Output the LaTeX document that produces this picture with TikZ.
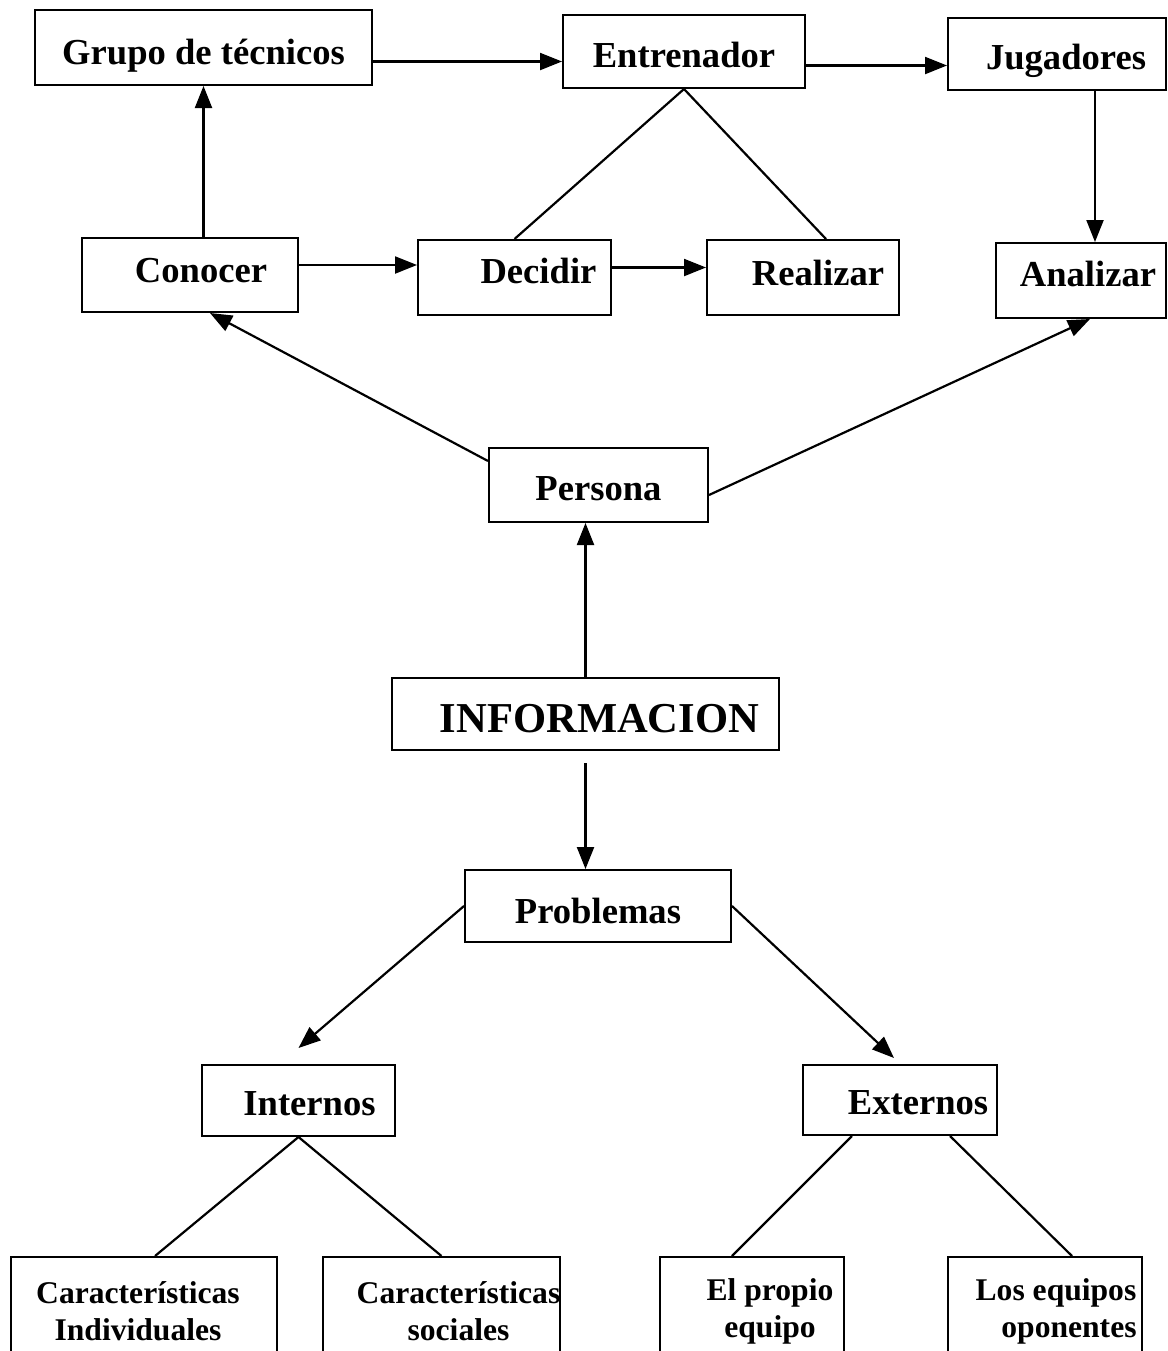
\documentclass[tikz,border=0pt]{standalone}
\usepackage{fontspec}
\setmainfont{Liberation Serif}
\usetikzlibrary{arrows.meta}

\tikzset{
  box/.style={draw, line width=1pt, inner sep=0pt, font=\fontsize{18.3}{22}\selectfont\bfseries},
  bigbox/.style={box, font=\fontsize{21.3}{25}\selectfont\bfseries},
  leafbox/.style={box, align=center, font=\fontsize{15.8}{18.5}\selectfont\bfseries},
  arr/.style={line width=1.1pt, -{Triangle[length=11pt, width=8.5pt]}},
  link/.style={line width=1.1pt}
}
% push the label a bit to the right inside its box
\newcommand{\pushr}[1]{\hspace*{#1pt}}
% label moved right (#1) and up (#2) inside its box
\newcommand{\lbl}[3]{\hspace*{#1pt}\raisebox{#2pt}[\height][\depth]{#3}}

\begin{document}
\begin{tikzpicture}[x=0.5pt, y=-0.5pt]
  \useasboundingbox (0,0) rectangle (1168,1351);
  \clip (0,0) rectangle (1168,1351);

  % Top row
  \node[box, minimum width=168.5pt, minimum height=37.5pt] (grupo) at (203.5,47.5) {\lbl{0}{-4}{Grupo de técnicos}};
  \node[box, minimum width=121pt, minimum height=36.5pt] (entrenador) at (684,51.5) {\lbl{0}{-1.5}{Entrenador}};
  \node[box, minimum width=109pt, minimum height=36pt] (jugadores) at (1057,54) {\lbl{9}{-3.5}{Jugadores}};

  % Second row
  \node[box, minimum width=108pt, minimum height=37pt] (conocer) at (190,275) {\lbl{11}{2}{Conocer}};
  \node[box, minimum width=96.5pt, minimum height=37.5pt] (decidir) at (514.5,277.5) {\lbl{24}{3.5}{Decidir}};
  \node[box, minimum width=96pt, minimum height=37.5pt] (realizar) at (803,277.5) {\lbl{15}{2.5}{Realizar}};
  \node[box, minimum width=85pt, minimum height=37.5pt] (analizar) at (1081,280.5) {\lbl{7}{3.5}{Analizar}};

  % Centre column
  \node[box, minimum width=109.5pt, minimum height=37pt] (persona) at (598.5,485) {\lbl{0}{-2}{Persona}};
  \node[bigbox, minimum width=193.5pt, minimum height=36pt] (informacion) at (585.5,714) {\lbl{14}{-2.5}{INFORMACION}};
  \node[box, minimum width=133pt, minimum height=36pt] (problemas) at (598,906) {\lbl{0}{-2.5}{Problemas}};

  % Problem types
  \node[box, minimum width=96.5pt, minimum height=35.5pt] (internos) at (298.5,1100.5) {\lbl{11}{-1.5}{Internos}};
  \node[box, minimum width=97pt, minimum height=35pt] (externos) at (900,1100) {\lbl{18}{-1.5}{Externos}};

  % Leaves (cut by the page edge)
  \node[leafbox, minimum width=133pt, minimum height=54pt] (individual) at (144,1311) {Características\pushr{6}\\Individuales\pushr{6}};
  \node[leafbox, minimum width=118.5pt, minimum height=54pt] (social) at (441.5,1311) {\pushr{17}Características\\\pushr{17}sociales};
  \node[leafbox, minimum width=92pt, minimum height=54pt] (propio) at (752,1311) {\pushr{18}El propio\\\pushr{18}equipo};
  \node[leafbox, minimum width=97pt, minimum height=54pt] (oponentes) at (1045,1311) {\pushr{11}Los equipos\\\pushr{24}oponentes};

  % Top connections
  \draw[arr] ([yshift=-7pt]grupo.east) -- ([yshift=-7pt]grupo.east -| entrenador.west);
  \draw[arr] ([yshift=-7pt]entrenador.east) -- ([yshift=-7pt]entrenador.east -| jugadores.west);
  \draw[arr] (conocer.north -| grupo.south) -- (grupo.south);
  \draw[arr] ([yshift=5pt]conocer.east) -- ([yshift=5pt]conocer.east -| decidir.west);
  \draw[arr] ([yshift=5pt]decidir.east) -- ([yshift=5pt]decidir.east -| realizar.west);
  \draw[link] (entrenador.south) -- (decidir.north);
  \draw[link] (entrenador.south) -- ([xshift=11.5pt]realizar.north);
  \draw[arr] ([xshift=19pt]jugadores.south) -- ([xshift=19pt]jugadores.south |- analizar.north);

  % Persona
  \draw[arr] ([yshift=-7pt]persona.north west) -- ([xshift=10pt]conocer.south);
  \draw[arr] ([yshift=-5pt]persona.east) -- ([xshift=4.5pt]analizar.south);
  \draw[arr] (informacion.north) -- (informacion.north |- persona.south);
  \draw[arr] ([yshift=-6pt]informacion.south) -- (informacion.south |- problemas.north);

  % Problemas
  \draw[arr] (problemas.west) -- ([yshift=8pt]internos.north);
  \draw[arr] (problemas.east) -- ([xshift=-3pt,yshift=3pt]externos.north);
  \draw[link] (internos.south) -- ([xshift=5.5pt]individual.north);
  \draw[link] (internos.south) -- (social.north);
  \draw[link] ([xshift=-24pt]externos.south) -- ([xshift=-10pt]propio.north);
  \draw[link] ([xshift=25pt]externos.south) -- ([xshift=13.5pt]oponentes.north);
\end{tikzpicture}
\end{document}
